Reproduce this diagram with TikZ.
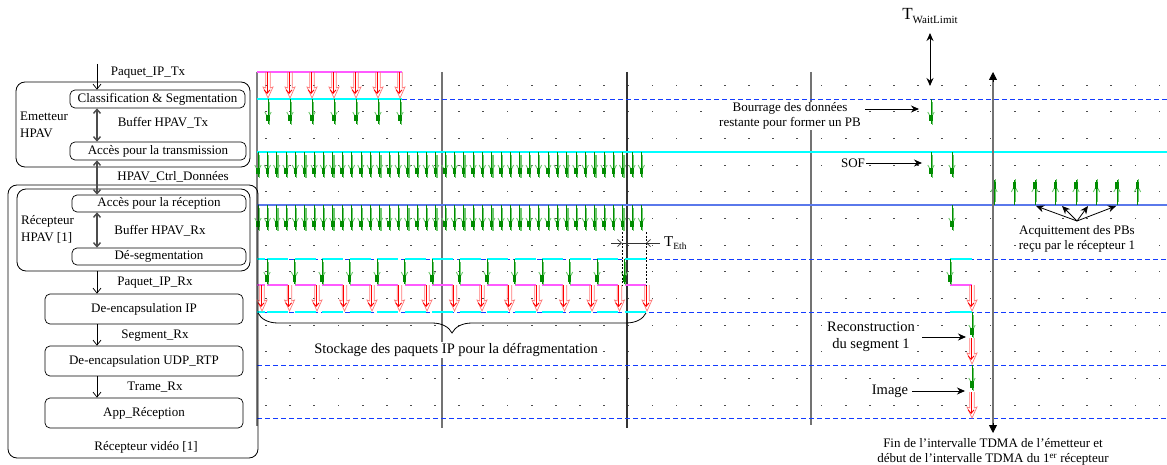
\documentclass[tikz,border=0pt]{standalone}
\usepackage{fontspec}
\setmainfont{Liberation Serif}
\usetikzlibrary{arrows.meta,decorations.pathreplacing}
\definecolor{dkgreen}{RGB}{0,140,0}
\definecolor{ltgreen}{RGB}{110,200,110}
\definecolor{ltred}{RGB}{255,120,120}
\definecolor{mycyan}{RGB}{0,255,255}
\definecolor{mymag}{RGB}{255,90,255}
\definecolor{myblue}{RGB}{20,60,255}
\definecolor{solidblue}{RGB}{90,120,235}
\tikzset{
  garrow/.pic={
    \draw[ltgreen, line width=1.3pt] (1.3,3) -- (1.3,26);
    \draw[dkgreen, line width=0.7pt] (0,0) -- (0,25);
    \draw[ltgreen, line width=0.9pt] (-3.2,13) -- (0,19) -- (3.2,13);
    \fill[dkgreen] (-1.7,16) rectangle (1.7,22.5);
  },
  rarrow/.pic={
    \draw[ltred, line width=0.7pt] (-2.2,0) -- (-2.2,16) -- (-5,15) -- (0,26) -- (5,15) -- (2.2,16) -- (2.2,0);
    \draw[red, line width=0.9pt, -{Straight Barb[length=3.5pt,width=6pt]}] (-0.9,0) -- (-0.9,22);
  },
  cyanline/.style={mycyan, line width=2.6pt},
  magline/.style={mymag, line width=1.4pt},
  dashline/.style={myblue, line width=1.2pt, dash pattern=on 5pt off 3pt},
  bluesolid/.style={solidblue, line width=1.6pt},
  vline/.style={line width=1.2pt},
  ibox/.style={draw, rounded corners=5pt, line width=0.7pt, inner sep=0pt},
  obox/.style={draw, rounded corners=9pt, line width=0.8pt, inner sep=0pt},
  dbl/.style={{Straight Barb[length=4pt,width=7pt]}-{Straight Barb[length=4pt,width=7pt]}, line width=1.4pt, black!70},
  sarr/.style={-{Straight Barb[length=5pt,width=8pt]}, line width=0.7pt},
  annarr/.style={-{Stealth[length=8pt,width=7pt]}, line width=0.9pt},
  lbl/.style={fill=white, inner sep=1pt, align=center},
}
\begin{document}
\begin{tikzpicture}[x=1pt,y=-1pt, every node/.style={font=\fontsize{13}{16}\selectfont, inner sep=1pt}]
\useasboundingbox (0,0) rectangle (1167,465);

% dots
\foreach \i in {0,...,37}{\foreach \j in {0,...,12}{
  \fill[black!70] ({266+24.15*\i-0.9},{85.3+26.65*\j-0.5}) rectangle ++(1.8,1);}}

% vertical time lines
\draw[line width=2.4pt, black!50] (257,72) -- (257,426);
\draw[vline, black!55] (442,72) -- (442,428);
\draw[vline, black!80] (627,72) -- (627,428);
\draw[vline, black!55] (811,72) -- (811,425);

% horizontal lines
\draw[magline] (257,72) -- (402,72);
\draw[dashline] (402,99.5) -- (1167,99.5);
\draw[cyanline] (257,99) -- (402,99);
\draw[cyanline] (257,152) -- (1167,152);
\draw[bluesolid] (257,205) -- (1167,205);
\draw[dashline] (257,259.5) -- (1167,259.5);
\draw[dashline] (257,312.5) -- (1167,312.5);
\draw[dashline] (257,365.5) -- (1167,365.5);
\draw[dashline] (257,418.5) -- (1167,418.5);
\draw[cyanline] (257,259) -- (265,259);
\draw[cyanline] (257,312) -- (265,312);
\draw[magline] (257,285) -- (265,285);
\foreach \i in {0,...,13}{
  \draw[cyanline] ({262+27.5*\i+5},259) -- ({262+27.5*\i+26},259);
  \draw[magline] ({262+27.5*\i+5},285) -- ({262+27.5*\i+26},285);
  \draw[cyanline] ({262+27.5*\i+5},312) -- ({262+27.5*\i+26},312);
}
\draw[cyanline] (950,259) -- (972,259);
\draw[magline] (950,285) -- (972,285);
\draw[cyanline] (950,312) -- (972,312);

% arrows, rows
\foreach \i in {0,...,6}{
  \pic at ({268+22*\i},72) {rarrow};
  \pic at ({268+22*\i},99) {garrow};
}
\foreach \i in {0,...,41}{
  \pic at ({258+9.35*\i},152) {garrow};
  \pic at ({258+9.35*\i},205) {garrow};
}
\foreach \i in {0,...,13}{\pic at ({267+27.5*\i},259) {garrow};}
\foreach \i in {0,...,14}{\pic at ({262+27.5*\i},285) {rarrow};}

% right side arrows
\pic at (931,99) {garrow};
\pic at (931,152) {garrow};
\pic at (952,152) {garrow};
\pic at (952,205) {garrow};
\foreach \i in {0,...,7}{\pic[yscale=-1] at ({994+20.5*\i},205) {garrow};}
\pic at (950,259) {garrow};
\pic at (972,285) {rarrow};
\pic at (972,312) {garrow};
\pic at (972,338) {rarrow};
\pic at (972,365) {garrow};
\pic at (972,392) {rarrow};

% T_Eth
\coordinate (te1) at (622,232);
\coordinate (te2) at (646,232);
\draw[dash pattern=on 2pt off 1.5pt, line width=0.6pt] (te1) -- (622,285);
\draw[dash pattern=on 2pt off 1.5pt, line width=0.6pt] (te2) -- (646,285);
\coordinate (ta) at (611,243);
\coordinate (tb) at (622,243);
\coordinate (tc) at (646,243);
\coordinate (td) at (660,243);
\draw[line width=0.7pt, black!80] (tb) -- (tc);
\draw[-{Straight Barb[length=4pt,width=7pt]}, line width=0.7pt, black!80] (ta) -- (tb);
\draw[-{Straight Barb[length=4pt,width=7pt]}, line width=0.7pt, black!80] (td) -- (tc);
\node[anchor=west, inner sep=0pt] (teth) at (664,243) {\fontsize{15}{15}\selectfont T\raisebox{-0.4ex}{\fontsize{9.5}{9.5}\selectfont Eth}};

% brace
\draw[decorate, decoration={brace, amplitude=20pt, mirror}, line width=0.8pt] (258,313) -- (646,313);
\node[lbl, font=\fontsize{14.5}{17}\selectfont] (stock) at (456,350) {Stockage des paquets IP pour la défragmentation};

% T_WaitLimit
\node (tw) at (930,16) {\fontsize{17}{17}\selectfont T\raisebox{-0.45ex}{\fontsize{11}{11}\selectfont WaitLimit}};
\coordinate (twa) at (930,33);
\coordinate (twb) at (930,86);
\draw[{Stealth[length=8pt,width=7pt]}-{Stealth[length=8pt,width=7pt]}, line width=1pt] (twa) -- (twb);

% TDMA boundary
\coordinate (fa) at (993,72);
\coordinate (fb) at (993,433);
\draw[line width=2.6pt, black!55] (993,80) -- (993,425);
\draw[-{Triangle[length=8pt,width=8pt]}, line width=0.8pt] (993,82) -- (fa);
\draw[-{Triangle[length=8pt,width=8pt]}, line width=0.8pt] (993,423) -- (fb);
\node[align=center, font=\fontsize{13}{15}\selectfont] (fin) at (993,452) {Fin de l’intervalle TDMA de l’émetteur et\\début de l’intervalle TDMA du 1\textsuperscript{er} récepteur};

% annotations
\node[lbl, font=\fontsize{13}{15}\selectfont] (bour) at (790,116) {Bourrage des données\\restante pour former un PB};
\coordinate (bour1) at (865,109);
\coordinate (bour2) at (919,109);
\draw[annarr] (bour1) -- (bour2);

\node[lbl] (sof) at (853,163) {SOF};
\coordinate (sof2) at (922,163);
\draw[annarr] (sof.east) -- (sof2);

\node[lbl, font=\fontsize{13}{15.5}\selectfont] (acq) at (1077,239) {Acquittement des PBs\\reçu par le récepteur 1};
\coordinate (acq0) at (1077,221);
\coordinate (acq1) at (1036,206);
\coordinate (acq2) at (1062,206);
\coordinate (acq3) at (1088,206);
\coordinate (acq4) at (1116,206);
\foreach \t in {acq1,acq2,acq3,acq4}{\draw[-{Stealth[length=8pt,width=7pt]}, line width=0.8pt] (acq0) -- (\t);}

\node[lbl, font=\fontsize{14.5}{16.5}\selectfont] (rec) at (871,337) {Reconstruction\\du segment 1};
\coordinate (rec1) at (922,337);
\coordinate (rec2) at (966,337);
\draw[annarr] (rec1) -- (rec2);

\node[lbl, font=\fontsize{14.5}{16.5}\selectfont] (img) at (890,391) {Image};
\coordinate (img2) at (965,391);
\draw[annarr] ([xshift=3pt]img.east) -- (img2);

% ---------------- left block ----------------
\node[obox, minimum width=234, minimum height=85] (em) at (133,124.5) {};
\node[ibox, minimum width=175, minimum height=18] (cls) at (157.5,99) {Classification \& Segmentation};
\node[ibox, minimum width=176, minimum height=18] (acctx) at (158,151) {Accès pour la transmission};
\node[anchor=west, align=left, font=\fontsize{13}{17}\selectfont] (emlab) at (19,124.5) {Emetteur\\HPAV};

\node[obox, minimum width=250, minimum height=273] (rv) at (133,321.5) {};
\node[obox, minimum width=233, minimum height=82] (rh) at (133.5,230) {};
\node[anchor=west, align=left, font=\fontsize{13}{17}\selectfont] (rhlab) at (20,229) {Récepteur\\HPAV [1]};
\node[ibox, minimum width=174, minimum height=17] (accrx) at (159,203.5) {Accès pour la réception};
\node[ibox, minimum width=174, minimum height=17] (deseg) at (159,256.5) {Dé-segmentation};
\node[ibox, minimum width=198, minimum height=30] (deip) at (144,309) {De-encapsulation IP};
\node[ibox, minimum width=198, minimum height=30] (deudp) at (144,361) {De-encapsulation UDP\_RTP};
\node[ibox, minimum width=198, minimum height=30] (app) at (144,413) {App\_Réception};
\node (rvlab) at (146,447) {Récepteur vidéo [1]};

\coordinate (pin) at (97,64);
\draw[sarr] (pin) -- (pin |- cls.north);
\draw[dbl] (cls.south -| pin) -- (acctx.north -| pin);
\draw[dbl] (acctx.south -| pin) -- (accrx.north -| pin);
\draw[dbl] (accrx.south -| pin) -- (deseg.north -| pin);
\draw[sarr] (rh.south -| pin) -- (deip.north -| pin);
\draw[sarr] (deip.south -| pin) -- (deudp.north -| pin);
\draw[sarr] (deudp.south -| pin) -- (app.north -| pin);

\node (l1) at (148,73) {Paquet\_IP\_Tx};
\node (l2) at (163,123) {Buffer HPAV\_Tx};
\node (l3) at (173,177) {HPAV\_Ctrl\_Données};
\node (l4) at (160,231) {Buffer HPAV\_Rx};
\node (l5) at (155,283) {Paquet\_IP\_Rx};
\node (l6) at (155,336) {Segment\_Rx};
\node (l7) at (155,387) {Trame\_Rx};
\end{tikzpicture}
\end{document}
